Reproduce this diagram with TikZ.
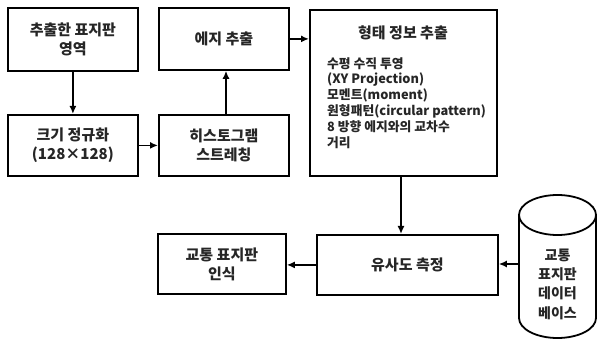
\documentclass[tikz,border=0pt]{standalone}
\usepackage{fontspec}
\setmainfont{Noto Sans CJK KR}
\usetikzlibrary{arrows.meta}
\begin{document}
\begin{tikzpicture}[x=1pt,y=-1pt,
  box/.style={draw,line width=1.8pt,inner sep=0pt,font=\bfseries\fontsize{15}{19}\selectfont,align=center,anchor=north west},
  conn/.style={line width=1.6pt,-{Latex[length=8pt,width=7pt]}},
  every node/.style={text=black!85}]
\useasboundingbox (0,0) rectangle (597,339);
\node[box,minimum width=130pt,minimum height=63pt] (ext) at (7,7) {추출한 표지판\\영역};
\node[box,minimum width=130pt,minimum height=62pt] (edge) at (158,7) {에지 추출};
\node[box,minimum width=130pt,minimum height=61pt] (size) at (7,114) {크기 정규화\\(128×128)};
\node[box,minimum width=130pt,minimum height=61pt] (hist) at (158,114) {히스토그램\\스트레칭};
\node[box,minimum width=187pt,minimum height=166pt] (shape) at (309,9) {};
\node[font=\bfseries\fontsize{15}{19}\selectfont] (shapet) at (403,33) {형태 정보 추출};
\node[anchor=north west,align=left,inner sep=0pt,font=\bfseries\fontsize{12.8}{15.8}\selectfont] (list) at (327,57)
 {수평 수직 투영\\(XY Projection)\\모멘트(moment)\\원형패턴(circular pattern)\\8 방향 에지와의 교차수\\거리};
\node[box,minimum width=181pt,minimum height=60pt] (sim) at (316,234) {유사도 측정};
\node[box,minimum width=128pt,minimum height=60pt] (rec) at (157,233) {교통 표지판\\인식};
% cylinder
\coordinate (cyl) at (519,264);
\draw[line width=1.8pt,fill=white] (519,215) -- (519,318) arc[start angle=180,end angle=360,x radius=38.5,y radius=-20] -- (596,215);
\draw[line width=1.8pt] (557.5,215) ellipse[x radius=38.5,y radius=20];
\node[font=\bfseries\fontsize{14}{19.3}\selectfont,align=center] (db) at (557.5,284) {교통\\표지판\\데이터\\베이스};
\draw[conn] (ext.south) -- (size.north);
\draw[conn] (size.east) -- (size.east -| hist.west);
\draw[conn] (hist.north -| 226,0) -- (edge.south -| 226,0);
\draw[conn] (edge.east) -- (edge.east -| shape.west);
\draw[conn] (shape.south -| 401,0) -- (sim.north -| 401,0);
\draw[conn] (cyl) -- (sim.east |- cyl);
\draw[conn] (sim.west) -- (rec.east |- sim.west);
\end{tikzpicture}
\end{document}
